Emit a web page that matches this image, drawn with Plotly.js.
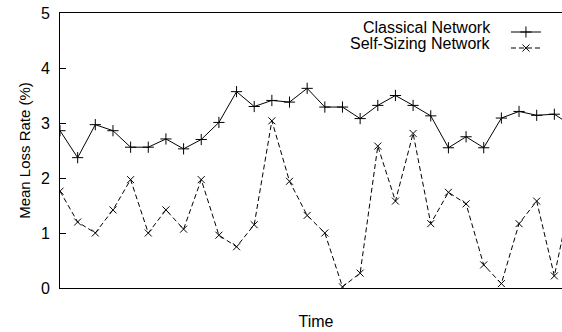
<!DOCTYPE html>
<html>
<head>
<meta charset="utf-8">
<script src="https://cdn.plot.ly/plotly-3.0.1.min.js"></script>
<style>
html, body { margin: 0; padding: 0; overflow: hidden; background: #fff; }
#chart { width: 572px; height: 332px; }
</style>
</head>
<body>
<div id="chart"></div>
<script>
// Sample index along the time axis
const timeIndex = [0,1,2,3,4,5,6,7,8,9,10,11,12,13,14,15,16,17,18,19,20,21,22,23,24,25,26,27,28,29];
// Mean loss rate (%) – Classical Network
const classicalLoss = [2.86,2.37,2.97,2.86,2.56,2.56,2.71,2.53,2.70,3.01,3.57,3.30,3.41,3.38,3.63,3.29,3.29,3.08,3.32,3.50,3.32,3.13,2.55,2.75,2.55,3.09,3.21,3.14,3.16,2.95];
// Mean loss rate (%) – Self-Sizing Network
const selfSizingLoss = [1.76,1.20,1.00,1.42,1.97,1.00,1.42,1.07,1.97,0.96,0.75,1.15,3.04,1.94,1.32,1.00,0.02,0.27,2.58,1.58,2.81,1.17,1.74,1.53,0.42,0.08,1.17,1.58,0.22,1.75];
const seriesNames = ["Classical Network", "Self-Sizing Network"];
const yTicks = [0,1,2,3,4,5];
const xTitle = "Time";
const yTitle = "Mean Loss Rate (%)";

const FONT = "'Liberation Sans', Arial, Helvetica, sans-serif";

const traces = [
  {
    x: timeIndex, y: classicalLoss, name: " ", type: "scatter", mode: "lines+markers",
    line: {color: "#000", width: 1},
    marker: {symbol: "cross-thin", size: 8, color: "#000", line: {color: "#000", width: 1}},
    legend: "legend"
  },
  {
    x: timeIndex, y: selfSizingLoss, name: "  ", type: "scatter", mode: "lines+markers",
    line: {color: "#000", width: 1, dash: "5px,3px"},
    marker: {symbol: "x-thin", size: 7, color: "#000", line: {color: "#000", width: 1}},
    legend: "legend2"
  }
];

const legendBase = {
  xanchor: "left", yanchor: "top",
  bgcolor: "rgba(0,0,0,0)", borderwidth: 0,
  font: {size: 10, family: FONT}, itemwidth: 30
};

const layout = {
  width: 572, height: 332,
  margin: {l: 60, r: 0, t: 13, b: 44, pad: 0},
  paper_bgcolor: "#fff", plot_bgcolor: "#fff",
  font: {family: FONT, color: "#000", size: 14},
  showlegend: true,
  legend: Object.assign({}, legendBase, {x: 0.871, y: (288 - 17.5) / 275}),
  legend2: Object.assign({}, legendBase, {x: 0.871, y: (288 - 33.5) / 275}),
  xaxis: {
    range: [0, 29], showticklabels: false, ticks: "", showgrid: false, zeroline: false,
    showline: true, linecolor: "#000", linewidth: 1, mirror: true,
    title: {text: xTitle, font: {size: 16, family: FONT}, standoff: 27}
  },
  yaxis: {
    range: [0, 5], tickvals: yTicks, ticktext: yTicks.map(String),
    ticks: "inside", ticklen: 6, tickwidth: 1, tickcolor: "#000",
    showgrid: false, zeroline: false,
    showline: true, linecolor: "#000", linewidth: 1, mirror: true,
    tickfont: {size: 16, family: FONT}, ticklabelstandoff: 6,
    title: {text: yTitle, font: {size: 15, family: FONT}, standoff: 6}
  },
  annotations: [
    {xref: "paper", yref: "paper", x: (493 - 60) / 512, y: (288 - 27) / 275,
     xanchor: "right", yanchor: "middle", showarrow: false,
     text: seriesNames[0], font: {size: 16, family: FONT}},
    {xref: "paper", yref: "paper", x: (493 - 60) / 512, y: (288 - 43) / 275,
     xanchor: "right", yanchor: "middle", showarrow: false,
     text: seriesNames[1], font: {size: 16, family: FONT}}
  ]
};

Plotly.newPlot("chart", traces, layout, {staticPlot: true, displayModeBar: false});
</script>
</body>
</html>
